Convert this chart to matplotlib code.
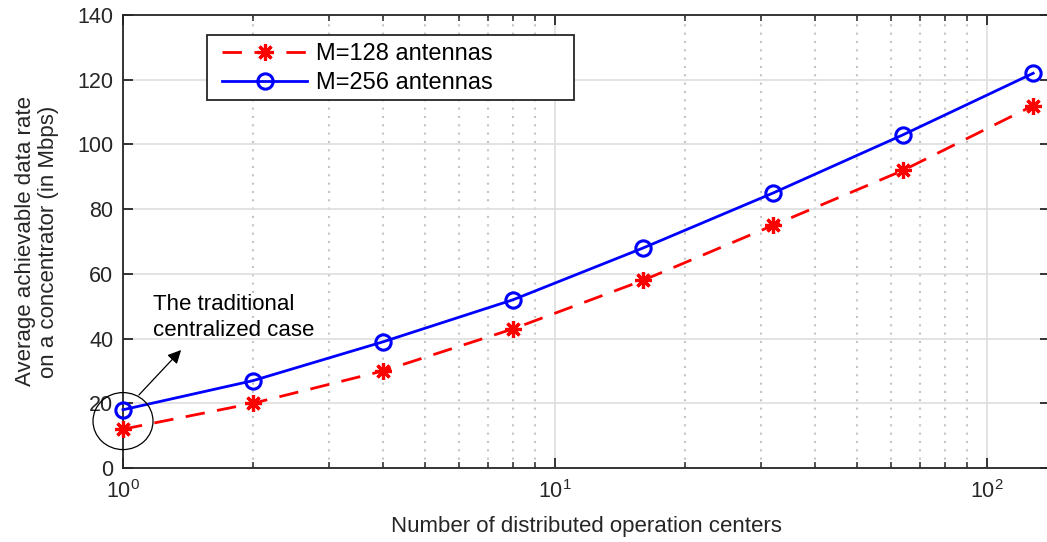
import matplotlib
matplotlib.use("Agg")
import matplotlib.pyplot as plt
from matplotlib.patches import Ellipse, Rectangle
from matplotlib.ticker import LogLocator, NullFormatter, FixedLocator, FixedFormatter

centers = [1, 2, 4, 8, 16, 32, 64, 128]
rate_m128 = [12, 20, 30, 43, 58, 75, 92, 112]
rate_m256 = [18, 27, 39, 52, 68, 85, 103, 122]
labels = ["M=128 antennas", "M=256 antennas"]
yticks = [0, 20, 40, 60, 80, 100, 120, 140]
xticks = [1, 10, 100]
xticklabels = ["$10^0$", "$10^1$", "$10^2$"]

plt.rcParams['font.family'] = ['Liberation Sans', 'DejaVu Sans']
plt.rcParams['mathtext.fontset'] = 'custom'
plt.rcParams['mathtext.rm'] = 'Liberation Sans'
plt.rcParams['mathtext.it'] = 'Liberation Sans'

W, H = 1047, 542
fig = plt.figure(figsize=(W / 100, H / 100), dpi=100)
ax = fig.add_axes([123 / W, 1 - 468 / H, (1050 - 123) / W, (468 - 15) / H])

ax.plot(centers, rate_m128, color='red', linestyle=(0, (7, 4.5)), linewidth=2.0,
        marker=(8, 2, 0), markersize=12, markeredgewidth=2.3, label=labels[0],
        clip_on=False, zorder=3)
ax.plot(centers, rate_m256, color='blue', linestyle='-', linewidth=2.0,
        marker='o', markersize=11, markerfacecolor='none', markeredgewidth=2.2,
        label=labels[1], clip_on=False, zorder=3)

ax.set_xscale('log')
ax.set_xlim(1, 140)
ax.set_ylim(0, 140)
ax.set_yticks(yticks)
ax.xaxis.set_major_locator(FixedLocator(xticks))
ax.xaxis.set_major_formatter(FixedFormatter(xticklabels))
ax.xaxis.set_minor_locator(LogLocator(base=10, subs=range(2, 10)))
ax.xaxis.set_minor_formatter(NullFormatter())

ax.grid(True, which='major', color='#dedede', linestyle='-', linewidth=1.2)
ax.grid(True, which='minor', axis='x', color='#c4c4c4', linestyle=(0, (1, 3)), linewidth=1.5)
ax.set_axisbelow(True)

for s in ax.spines.values():
    s.set_color('#262626')
    s.set_linewidth(1.3)
ax.tick_params(which='both', direction='in', top=True, right=True, colors='#262626',
               labelsize=15.5, labelcolor='#262626')
ax.tick_params(which='major', length=7.5, width=1.3)
ax.tick_params(which='minor', length=4, width=1.1)
ax.tick_params(axis='x', which='major', pad=9)
ax.tick_params(axis='y', which='major', pad=7)

ax.set_xlabel("Number of distributed operation centers", fontsize=16, color='#262626', labelpad=9)
ax.set_ylabel("Average achievable data rate\non a concentrator (in Mbps)", fontsize=16,
              color='#262626', labelpad=13, linespacing=1.15)

# legend box (frame drawn separately to match the wide MATLAB-style box)
frame = Rectangle((207 / W, 1 - 100 / H), (574 - 207) / W, (100 - 35) / H,
                  transform=fig.transFigure, facecolor='white', edgecolor='#262626',
                  linewidth=1.3, zorder=4, clip_on=False)
ax.add_patch(frame)
leg = ax.legend(loc='upper left', bbox_to_anchor=(222 / W, 1 - 43 / H),
                bbox_transform=fig.transFigure,
                fontsize=17, frameon=False, handlelength=3.6, borderpad=0.0,
                labelspacing=0.3, handletextpad=0.4, borderaxespad=0)
leg.set_zorder(5)

# annotation ellipse around the centralized case
tr = ax.transData
cx, cy = tr.transform((1, 14.5))
ell = Ellipse((cx / W, cy / H), 60 / W, 57 / H, transform=fig.transFigure,
              fill=False, edgecolor='black', linewidth=0.9, clip_on=False, zorder=3)
ax.add_patch(ell)

ax.annotate("", xy=(183 / W, 1 - 348 / H), xycoords='figure fraction',
            xytext=(137 / W, 1 - 397 / H), textcoords='figure fraction',
            arrowprops=dict(arrowstyle='-|>', color='black', lw=0.9, mutation_scale=20))
fig.text(153 / W, 1 - 294 / H, "The traditional\ncentralized case", fontsize=16,
         va='top', ha='left', color='black', linespacing=1.3)

fig.savefig("out.png", dpi=100)
